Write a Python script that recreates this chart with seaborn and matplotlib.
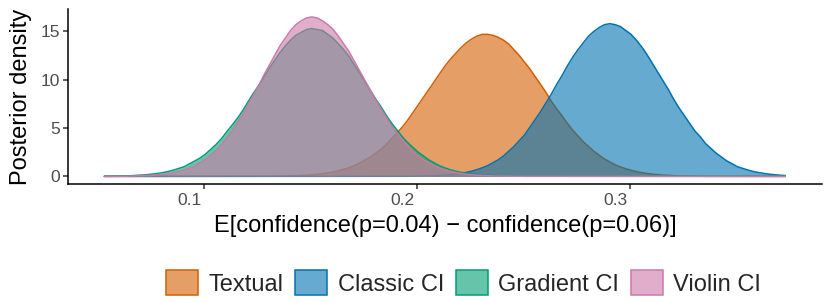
import pandas as pd
import matplotlib
matplotlib.use("Agg")
import matplotlib.pyplot as plt
import seaborn as sns
from matplotlib.patches import Patch
from matplotlib.colors import to_rgba
from matplotlib.transforms import ScaledTranslation

x_grid = [0.053, 0.0555, 0.058, 0.0605, 0.063, 0.0655, 0.068, 0.0705, 0.073, 0.0755,
          0.078, 0.0805, 0.083, 0.0855, 0.088, 0.0905, 0.093, 0.0955, 0.098, 0.1005,
          0.103, 0.1055, 0.108, 0.1105, 0.113, 0.1155, 0.118, 0.1205, 0.123, 0.1255,
          0.128, 0.1305, 0.133, 0.1355, 0.138, 0.1405, 0.143, 0.1455, 0.148, 0.1505,
          0.153, 0.1555, 0.158, 0.1605, 0.163, 0.1655, 0.168, 0.1705, 0.173, 0.1755,
          0.178, 0.1805, 0.183, 0.1855, 0.188, 0.1905, 0.193, 0.1955, 0.198, 0.2005,
          0.203, 0.2055, 0.208, 0.2105, 0.213, 0.2155, 0.218, 0.2205, 0.223, 0.2255,
          0.228, 0.2305, 0.233, 0.2355, 0.238, 0.2405, 0.243, 0.2455, 0.248, 0.2505,
          0.253, 0.2555, 0.258, 0.2605, 0.263, 0.2655, 0.268, 0.2705, 0.273, 0.2755,
          0.278, 0.2805, 0.283, 0.2855, 0.288, 0.2905, 0.293, 0.2955, 0.298, 0.3005,
          0.303, 0.3055, 0.308, 0.3105, 0.313, 0.3155, 0.318, 0.3205, 0.323, 0.3255,
          0.328, 0.3305, 0.333, 0.3355, 0.338, 0.3405, 0.343, 0.3455, 0.348, 0.3505,
          0.353, 0.3555, 0.358, 0.3605, 0.363, 0.3655, 0.368, 0.3705, 0.373]

# posterior densities per condition (same length as x_grid)
textual = [0] * 29 + [
    0.01, 0.01, 0.01, 0.02, 0.03, 0.04, 0.05, 0.07, 0.09, 0.12, 0.16, 0.21,
    0.28, 0.36, 0.46, 0.58, 0.73, 0.90, 1.1, 1.4, 1.7, 2.0, 2.4, 2.8,
    3.3, 3.9, 4.5, 5.1, 5.8, 6.6, 7.4, 8.2, 9.0, 9.8, 10.6, 11.4,
    12.1, 12.7, 13.3, 13.8, 14.2, 14.5, 14.7, 14.7, 14.6, 14.4, 14.1, 13.7,
    13.1, 12.5, 11.8, 11.1, 10.3, 9.5, 8.7, 7.8, 7.0, 6.3, 5.5, 4.8,
    4.2, 3.6, 3.1, 2.6, 2.2, 1.8, 1.5, 1.2, 0.98, 0.79, 0.63, 0.50,
    0.39, 0.30, 0.23, 0.18, 0.13, 0.10, 0.07, 0.05, 0.04, 0.03, 0.02, 0.01,
    0.01, 0.01, 0.01] + [0] * 13
classic_ci = [0] * 55 + [
    0.01, 0.01, 0.01, 0.02, 0.02, 0.03, 0.05, 0.07, 0.09, 0.13, 0.18, 0.23,
    0.31, 0.41, 0.53, 0.69, 0.88, 1.1, 1.4, 1.7, 2.1, 2.6, 3.1, 3.7,
    4.3, 5.1, 5.9, 6.7, 7.6, 8.5, 9.5, 10.4, 11.4, 12.3, 13.1, 13.8,
    14.5, 15.0, 15.4, 15.7, 15.8, 15.7, 15.5, 15.1, 14.7, 14.1, 13.4, 12.6,
    11.7, 10.8, 9.9, 9.0, 8.0, 7.1, 6.3, 5.5, 4.7, 4.1, 3.4, 2.9,
    2.4, 2.0, 1.6, 1.3, 1.0, 0.82, 0.65, 0.50, 0.39, 0.30, 0.22, 0.17,
    0.12, 0.09]
gradient_ci = [
    0.01, 0.02, 0.03, 0.04, 0.05, 0.07, 0.10, 0.13, 0.17, 0.23, 0.30, 0.39,
    0.51, 0.65, 0.82, 1.0, 1.3, 1.6, 1.9, 2.3, 2.8, 3.3, 3.9, 4.6,
    5.3, 6.0, 6.8, 7.7, 8.6, 9.4, 10.3, 11.2, 12.0, 12.8, 13.5, 14.1,
    14.6, 14.9, 15.2, 15.3, 15.2, 15.1, 14.7, 14.3, 13.7, 13.1, 12.4, 11.5,
    10.7, 9.8, 8.9, 8.0, 7.2, 6.3, 5.5, 4.8, 4.1, 3.5, 3.0, 2.5,
    2.1, 1.7, 1.4, 1.1, 0.88, 0.69, 0.54, 0.42, 0.32, 0.25, 0.19, 0.14,
    0.10, 0.08, 0.05, 0.04, 0.03, 0.02, 0.01, 0.01, 0.01] + [0] * 48
violin_ci = [0] + [
    0.01, 0.01, 0.01, 0.02, 0.03, 0.04, 0.06, 0.08, 0.11, 0.16, 0.22, 0.29,
    0.39, 0.52, 0.68, 0.88, 1.1, 1.4, 1.8, 2.2, 2.7, 3.3, 4.0, 4.7,
    5.6, 6.4, 7.4, 8.4, 9.4, 10.5, 11.5, 12.5, 13.5, 14.3, 15.1, 15.7,
    16.1, 16.4, 16.5, 16.4, 16.1, 15.7, 15.2, 14.5, 13.7, 12.9, 11.9, 10.9,
    9.9, 8.9, 7.9, 7.0, 6.1, 5.2, 4.5, 3.8, 3.2, 2.6, 2.1, 1.7,
    1.4, 1.1, 0.87, 0.68, 0.52, 0.40, 0.30, 0.22, 0.17, 0.12, 0.09, 0.06,
    0.04, 0.03, 0.02, 0.02, 0.01, 0.01] + [0] * 50

conditions = ["Textual", "Classic CI", "Gradient CI", "Violin CI"]
colors = ["#D55E00", "#0072B2", "#009E73", "#CC79A7"]

df = pd.concat([
    pd.DataFrame({"x": x_grid, "density": d, "condition": c})
    for c, d in zip(conditions, [textual, classic_ci, gradient_ci, violin_ci])
], ignore_index=True)

sns.set_theme(style="ticks")
plt.rcParams["font.family"] = ["Liberation Sans", "DejaVu Sans"]

fig = plt.figure(figsize=(8.3, 3.03), dpi=100)
ax = fig.add_axes([68 / 830, 1 - 184.3 / 303, 753.7 / 830, 175 / 303])

# one area + outline per condition, drawn in order like ggplot does
for i, (cond, col) in enumerate(zip(conditions, colors)):
    sub = df[df["condition"] == cond]
    ax.fill_between(sub["x"], sub["density"], 0, color=col, alpha=0.6,
                    linewidth=0, zorder=2 + i)
    sns.lineplot(data=sub, x="x", y="density", color=col, linewidth=1.1,
                 ax=ax, zorder=2.5 + i, solid_joinstyle="round")

ax.set_xlim(0.0359, 0.3901)
ax.set_ylim(-0.82, 17.29)
ax.set_xticks([0.1, 0.2, 0.3])
ax.set_xticklabels(["0.1", "0.2", "0.3"])
ax.set_yticks([0, 5, 10, 15])
sns.despine(ax=ax)
for s in ["left", "bottom"]:
    ax.spines[s].set_linewidth(1.1)
    ax.spines[s].set_color("black")
ax.tick_params(length=3.5, width=1.1, color="#333333", labelcolor="#4D4D4D",
               labelsize=12.5)
ax.tick_params(axis="y", pad=2.5)
ax.tick_params(axis="x", pad=3)
# tick labels sit a bit left of the ticks in the original
for lab in ax.get_xticklabels():
    lab.set_transform(lab.get_transform() + ScaledTranslation(-0.15, 0, fig.dpi_scale_trans))

ax.set_xlabel("E[confidence(p=0.04) \u2212 confidence(p=0.06)]", fontsize=17, color="black")
ax.xaxis.label.set_va("center")
ax.xaxis.set_label_coords(0.5, -0.238)
ax.set_ylabel("Posterior density", fontsize=17, color="black")
ax.yaxis.label.set_va("center")
ax.yaxis.set_label_coords(-0.0624, 0.5)

handles = [Patch(facecolor=to_rgba(c, 0.6), edgecolor=c, linewidth=1.1) for c in colors]
fig.legend(handles, conditions, loc="center", bbox_to_anchor=(463.5 / 830, 1 - 283 / 303),
           ncol=4, frameon=False, fontsize=17, handlelength=1.35, handleheight=1.27,
           handletextpad=0.45, columnspacing=0.5, borderaxespad=0, borderpad=0)

fig.savefig("out.png", dpi=100)
